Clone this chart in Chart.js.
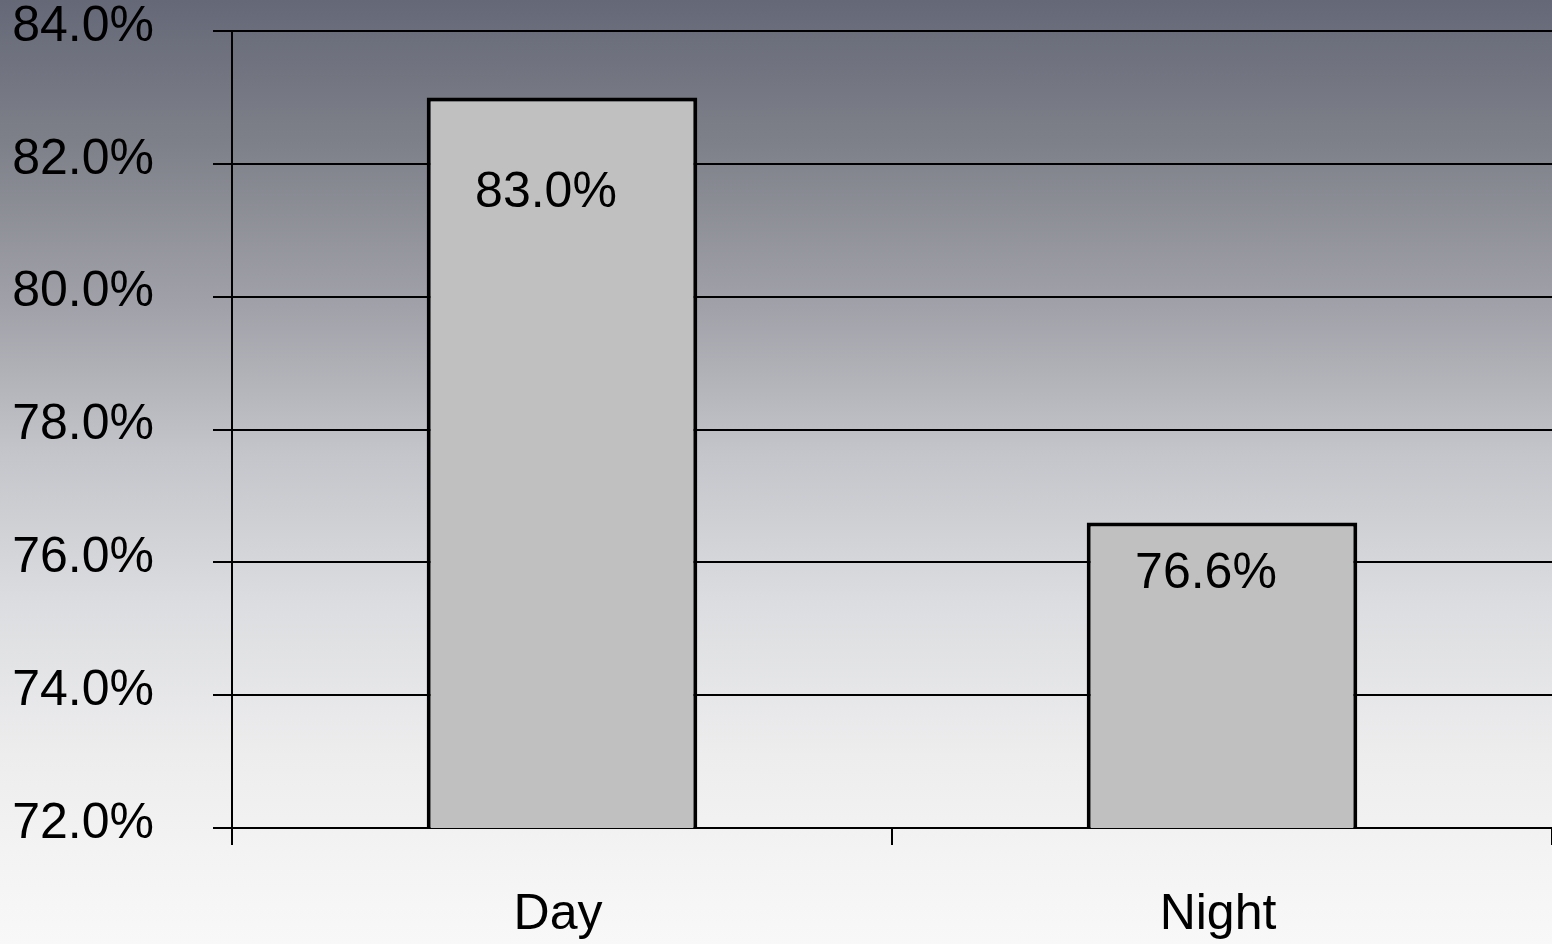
<!DOCTYPE html>
<html>
<head>
<meta charset="utf-8">
<script src="https://cdn.jsdelivr.net/npm/chart.js@4"></script>
<style>
  html, body { margin: 0; padding: 0; }
  body {
    width: 1552px; height: 944px; overflow: hidden;
    background: linear-gradient(to bottom, #656877 0%, #7e8089 15%, #a2a3aa 33%, #c3c5ca 48%, #dcdde0 64%, #ededee 80%, #f3f3f3 90%, #f8f8f8 100%);
  }
  #wrap { position: relative; width: 1552px; height: 944px; }
</style>
</head>
<body>
<div id="wrap"><canvas id="chart"></canvas></div>
<script>
const categories = ["Day", "Night"];
const rates = [83.0, 76.6];
const yMin = 72, yMax = 84, yStep = 2;

// label placement relative to each bar top (px)
const labelDx = -16;
const labelDy = [96, 52];

const FONT = "'Liberation Sans', Arial, sans-serif";

const valueLabels = {
  id: "valueLabels",
  afterDatasetsDraw(chart) {
    const ctx = chart.ctx;
    const meta = chart.getDatasetMeta(0);
    ctx.save();
    ctx.font = `50px ${FONT}`;
    ctx.fillStyle = "#000";
    ctx.textAlign = "center";
    ctx.textBaseline = "middle";
    meta.data.forEach((bar, i) => {
      ctx.fillText(rates[i].toFixed(1) + "%", bar.x + labelDx, bar.y + labelDy[i]);
    });
    ctx.restore();
  }
};

new Chart(document.getElementById("chart"), {
  type: "bar",
  data: {
    labels: categories,
    datasets: [{
      data: rates,
      backgroundColor: "#c0c0c0",
      borderColor: "#000",
      borderWidth: 4,
      borderSkipped: false,
      categoryPercentage: 1,
      barPercentage: 0.41
    }]
  },
  options: {
    responsive: true,
    maintainAspectRatio: false,
    animation: false,
    layout: { padding: { top: 31, left: 10, right: 0, bottom: 0 } },
    plugins: { legend: { display: false }, tooltip: { enabled: false } },
    scales: {
      x: {
        grid: { drawOnChartArea: false, drawTicks: true, tickLength: 17, color: "#000", lineWidth: 2 },
        border: { display: true, color: "#000", width: 2 },
        ticks: { color: "#000", font: { family: FONT, size: 50 }, padding: 40, labelOffset: -4 },
        afterFit: s => { s.height = 116; s.paddingLeft = 0; s.paddingRight = 0; }
      },
      y: {
        min: yMin,
        max: yMax,
        grid: { color: "#000", lineWidth: 2, tickLength: 19 },
        border: { display: true, color: "#000", width: 2 },
        ticks: {
          stepSize: yStep,
          color: "#000",
          font: { family: FONT, size: 50 },
          padding: 59,
          labelOffset: -4,
          callback: v => v.toFixed(1) + "%"
        },
        afterFit: s => { s.width = 222; s.paddingTop = 0; s.paddingBottom = 0; }
      }
    }
  },
  plugins: [valueLabels]
});
</script>
</body>
</html>
